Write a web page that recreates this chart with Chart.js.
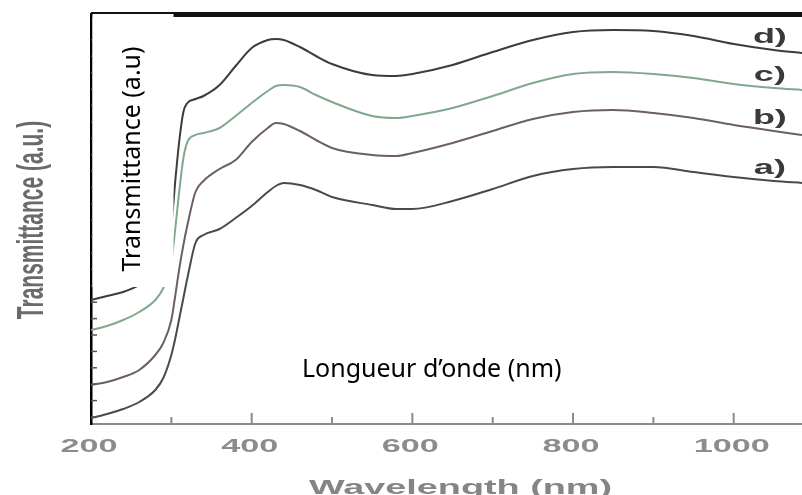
<!DOCTYPE html>
<html>
<head>
<meta charset="utf-8">
<script src="https://cdn.jsdelivr.net/npm/chart.js@4"></script>
<style>
  html, body { margin: 0; padding: 0; background: #fff; overflow: hidden; }
  #wrap { width: 802px; height: 495px; }
</style>
</head>
<body>
<div id="wrap"><canvas id="spectra"></canvas></div>
<script>
// wavelengths (nm) shared by the four spectra
const wavelengths = [200, 220, 240, 260, 280, 290, 300, 305, 310, 315, 320, 330, 340, 360, 380,
  400, 420, 430, 440, 460, 480, 500, 550, 580, 600, 650, 700, 750, 800, 850, 900, 950, 1000, 1050, 1085];

// transmittance, arbitrary units
const curveA = [6, 10, 15, 22, 34, 46, 69, 86, 106, 126, 146, 181, 189, 195, 206,
  218, 232, 238, 241, 239, 234, 227, 219, 215, 215, 223, 235, 248, 255, 257, 257, 252, 247, 243, 241];
const curveB = [39, 42, 47, 54, 69, 81, 104, 129, 156, 179, 199, 232, 243, 255, 264,
  282, 296, 301, 300, 293, 284, 276, 269, 268, 271, 281, 293, 305, 312, 314, 311, 306, 299, 293, 289];
const curveC = [94, 98, 104, 112, 124, 136, 162, 196, 234, 266, 282, 289, 291, 296, 308,
  321, 333, 338, 339, 337, 329, 322, 308, 306, 308, 316, 328, 341, 350, 352, 350, 346, 340, 336, 334];
const curveD = [124, 128, 132, 139, 152, 166, 199, 244, 284, 312, 321, 325, 328, 339, 358,
  376, 384, 385, 384, 377, 368, 360, 349, 348, 350, 359, 372, 384, 392, 394, 393, 388, 380, 374, 371];

const curveNames = ['a)', 'b)', 'c)', 'd)'];
const curveColors = ['#4a4a4a', '#6d5f62', '#7fa98d', '#3c3c3c'];
const xTickLabels = ['200', '400', '600', '800', '1000'];

const series = [curveA, curveB, curveC, curveD];

// the scanned figure is stretched sideways, so its grey text is too
const STRETCH = 1.8;
function wideText(ctx, text, x, y, font, color, rotated) {
  ctx.save();
  ctx.translate(x, y);
  ctx.scale(STRETCH, 1);
  if (rotated) ctx.rotate(-Math.PI / 2);
  ctx.font = font;
  ctx.fillStyle = color;
  ctx.textAlign = 'center';
  ctx.textBaseline = 'middle';
  ctx.fillText(text, 0, 0);
  ctx.restore();
}

const decorations = {
  id: 'decorations',
  afterDraw(chart) {
    const { ctx, chartArea: area, scales: { x, y } } = chart;

    // inward ticks on the wavelength axis
    ctx.save();
    ctx.strokeStyle = '#8a8a8a';
    ctx.lineWidth = 2;
    for (let wl = 300; wl <= 1000; wl += 100) {
      const px = x.getPixelForValue(wl);
      const len = wl % 200 === 0 ? 11 : 7;
      ctx.beginPath();
      ctx.moveTo(px, area.bottom);
      ctx.lineTo(px, area.bottom - len);
      ctx.stroke();
    }
    // small inward ticks on the left axis
    ctx.strokeStyle = '#555';
    ctx.lineWidth = 1.5;
    for (let v = 7; v < 400; v += 16.4) {
      const py = y.getPixelForValue(v);
      ctx.beginPath();
      ctx.moveTo(area.left, py);
      ctx.lineTo(area.left + 6, py);
      ctx.stroke();
    }
    // heavy top frame line
    ctx.fillStyle = '#111';
    ctx.fillRect(area.left, area.top - 2, area.right - area.left, 5);
    ctx.restore();

    // tick labels
    xTickLabels.forEach(t => {
      wideText(ctx, t, x.getPixelForValue(+t) - 2, 447, 'bold 19px "Liberation Sans"', '#8c8c8c');
    });
    // axis titles from the original figure
    wideText(ctx, 'Wavelength (nm)', (area.left + area.right) / 2 + 14, 488, 'bold 21px "Liberation Sans"', '#858585');
    wideText(ctx, 'Transmittance (a.u.)', 33, 220, 'bold 21px "Liberation Sans"', '#6a6a6a', true);

    // curve labels at the right end
    const labelWl = 1045;
    const idx = wavelengths.indexOf(1050);
    series.forEach((s, i) => {
      const py = y.getPixelForValue(s[idx]) - 13;
      wideText(ctx, curveNames[i], x.getPixelForValue(labelWl), py, 'bold 20px "Liberation Sans"', '#3a3a3a');
    });

    // pasted-on French labels
    ctx.save();
    ctx.fillStyle = '#fff';
    ctx.fillRect(area.left + 1.5, area.top, 81, 273);
    ctx.fillStyle = '#000';
    ctx.font = '25px "Noto Sans"';
    ctx.textAlign = 'center';
    ctx.textBaseline = 'middle';
    ctx.translate(area.left + 42, area.top + 145);
    ctx.rotate(-Math.PI / 2);
    ctx.fillText('Transmittance (a.u)', 0, 0);
    ctx.restore();

    ctx.save();
    ctx.fillStyle = '#000';
    ctx.font = '25px "Noto Sans"';
    ctx.textAlign = 'left';
    ctx.textBaseline = 'alphabetic';
    ctx.fillText('Longueur d\u2019onde (nm)', 302, 377);
    ctx.restore();
  }
};

new Chart(document.getElementById('spectra'), {
  type: 'line',
  data: {
    datasets: series.map((s, i) => ({
      label: curveNames[i],
      data: wavelengths.map((wl, j) => ({ x: wl, y: s[j] })),
      borderColor: curveColors[i],
      borderWidth: 2,
      pointRadius: 0,
      fill: false,
      cubicInterpolationMode: 'monotone'
    }))
  },
  options: {
    responsive: true,
    maintainAspectRatio: false,
    animation: false,
    layout: { padding: { top: 14, right: 0, bottom: 0, left: 0 } },
    plugins: { legend: { display: false }, tooltip: { enabled: false } },
    scales: {
      x: {
        type: 'linear',
        min: 200,
        max: 1085,
        afterFit: s => { s.height = 71; },
        ticks: { display: false, stepSize: 100 },
        grid: { display: false },
        border: { color: '#8a8a8a', width: 2 }
      },
      y: {
        min: 0,
        max: 410,
        afterFit: s => { s.width = 91; },
        ticks: { display: false },
        grid: { display: false },
        border: { color: '#000', width: 2.5 }
      }
    }
  },
  plugins: [decorations]
});
</script>
</body>
</html>
